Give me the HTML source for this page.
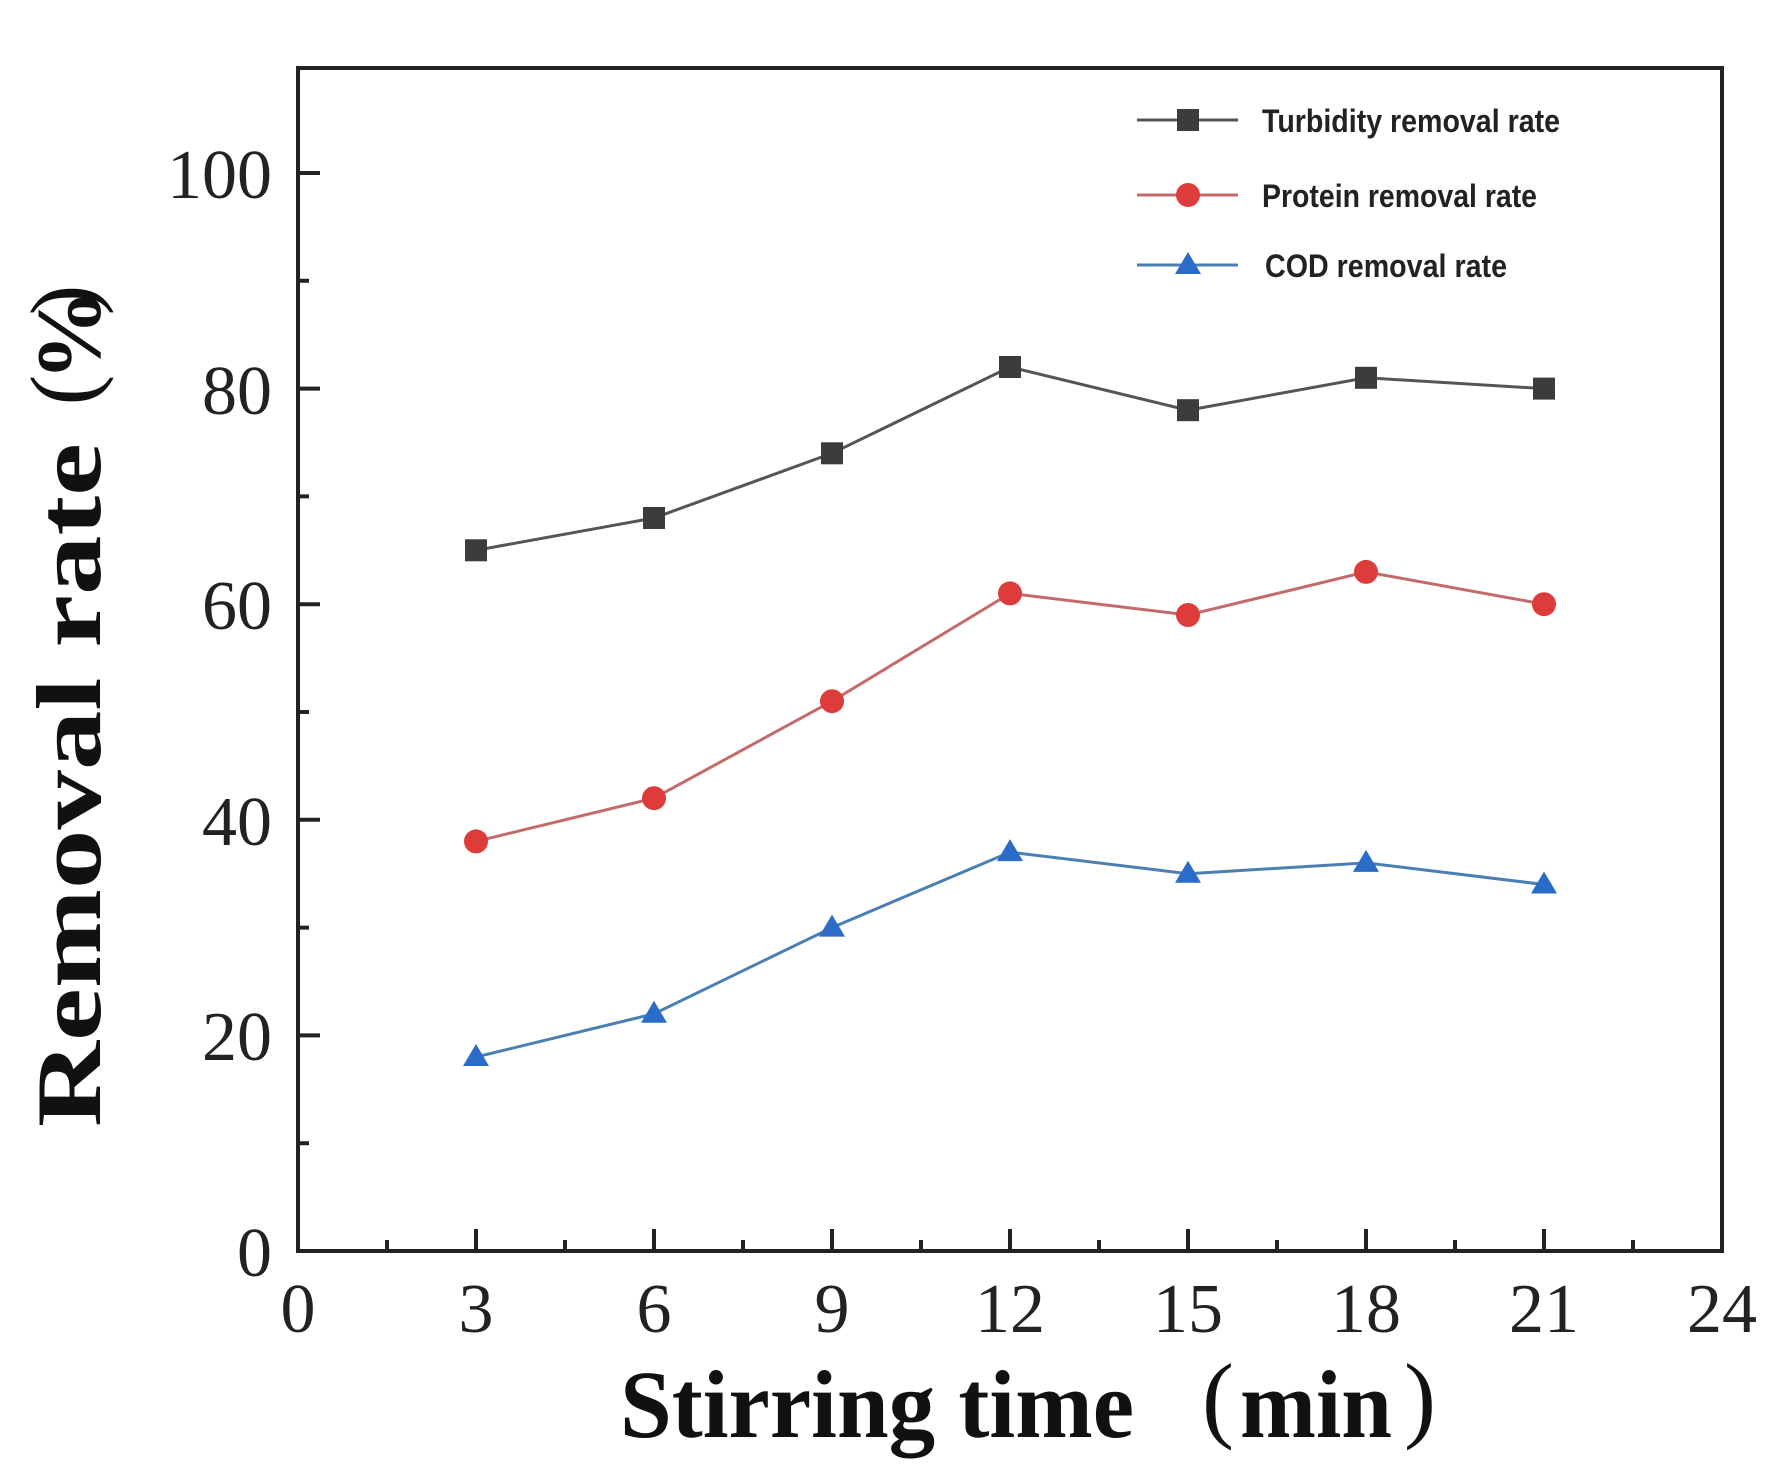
<!DOCTYPE html>
<html><head><meta charset="utf-8"><style>html,body{margin:0;padding:0;background:#fff}svg{display:block}</style></head>
<body>
<svg width="1787" height="1477" viewBox="0 0 1787 1477" xmlns="http://www.w3.org/2000/svg">
<rect width="1787" height="1477" fill="#fff"/>
<g stroke="#222" stroke-width="4" fill="none">
<rect x="298" y="68" width="1424" height="1183"/>
<path d="M298 1035.4h22M298 819.8h22M298 604.2h22M298 388.6h22M298 173h22"/>
<path d="M298 1143.2h11M298 927.6h11M298 712h11M298 496.4h11M298 280.8h11"/>
<path d="M476 1251v-22M654 1251v-22M832 1251v-22M1010 1251v-22M1188 1251v-22M1366 1251v-22M1544 1251v-22"/>
<path d="M387 1251v-11M565 1251v-11M743 1251v-11M921 1251v-11M1099 1251v-11M1277 1251v-11M1455 1251v-11M1633 1251v-11"/>
</g>
<g font-family="Liberation Serif, serif" font-size="70" fill="#222">
<g text-anchor="end">
<text x="272" y="1276">0</text>
<text x="272" y="1060">20</text>
<text x="272" y="845">40</text>
<text x="272" y="629">60</text>
<text x="272" y="414">80</text>
<text x="272" y="198">100</text>
</g>
<g text-anchor="middle">
<text x="298" y="1332">0</text>
<text x="476" y="1332">3</text>
<text x="654" y="1332">6</text>
<text x="832" y="1332">9</text>
<text x="1010" y="1332">12</text>
<text x="1188" y="1332">15</text>
<text x="1366" y="1332">18</text>
<text x="1544" y="1332">21</text>
<text x="1722" y="1332">24</text>
</g>
</g>
<g font-family="Liberation Serif, serif" font-weight="bold" fill="#111">
<text x="620" y="1437" font-size="96" textLength="514" lengthAdjust="spacingAndGlyphs">Stirring time</text>
<text x="1218" y="1430" font-size="96" font-weight="normal" text-anchor="middle">(</text>
<text x="1240" y="1437" font-size="96" textLength="152" lengthAdjust="spacingAndGlyphs">min</text>
<text x="1420" y="1430" font-size="96" font-weight="normal" text-anchor="middle">)</text>
<g transform="translate(100,1127) rotate(-90)">
<text x="0" y="0" font-size="92" textLength="684" lengthAdjust="spacingAndGlyphs">Removal rate</text>
<text x="737" y="-6" font-size="92" font-weight="normal" text-anchor="middle">(</text>
<text x="792" y="0" font-size="92" text-anchor="middle">%</text>
<text x="827" y="-6" font-size="92" font-weight="normal" text-anchor="middle">)</text>
</g>
</g>
<polyline fill="none" stroke="#555" stroke-width="3" points="476,550.3 654,518 832,453.3 1010,367 1188,410.2 1366,377.8 1544,388.6"/>
<g fill="#3c3c3c">
<rect x="465" y="539.3" width="22" height="22"/><rect x="643" y="507" width="22" height="22"/><rect x="821" y="442.3" width="22" height="22"/><rect x="999" y="356" width="22" height="22"/><rect x="1177" y="399.2" width="22" height="22"/><rect x="1355" y="366.8" width="22" height="22"/><rect x="1533" y="377.6" width="22" height="22"/>
</g>
<polyline fill="none" stroke="#c46a6a" stroke-width="3" points="476,841.4 654,798.2 832,701.2 1010,593.4 1188,615 1366,571.9 1544,604.2"/>
<g fill="#de3b3b">
<circle cx="476" cy="841.4" r="12"/><circle cx="654" cy="798.2" r="12"/><circle cx="832" cy="701.2" r="12"/><circle cx="1010" cy="593.4" r="12"/><circle cx="1188" cy="615" r="12"/><circle cx="1366" cy="571.9" r="12"/><circle cx="1544" cy="604.2" r="12"/>
</g>
<polyline fill="none" stroke="#4b7fb3" stroke-width="3" points="476,1057 654,1013.8 832,927.6 1010,852.1 1188,873.7 1366,862.9 1544,884.5"/>
<g fill="#2a6cc8">
<path d="M476 1044l13 22h-26z"/><path d="M654 1000.8l13 22h-26z"/><path d="M832 914.6l13 22h-26z"/><path d="M1010 839.1l13 22h-26z"/><path d="M1188 860.7l13 22h-26z"/><path d="M1366 849.9l13 22h-26z"/><path d="M1544 871.5l13 22h-26z"/>
</g>
<g stroke-width="3">
<line x1="1137" y1="120" x2="1238" y2="120" stroke="#555"/>
<line x1="1137" y1="195" x2="1238" y2="195" stroke="#c46a6a"/>
<line x1="1137" y1="265" x2="1238" y2="265" stroke="#4b7fb3"/>
</g>
<rect x="1177" y="109" width="22" height="22" fill="#3c3c3c"/>
<circle cx="1188" cy="195" r="12" fill="#de3b3b"/>
<path d="M1188 252l13 22h-26z" fill="#2a6cc8"/>
<g font-family="Liberation Sans, sans-serif" font-weight="bold" font-size="32" fill="#222">
<text x="1262" y="132" textLength="298" lengthAdjust="spacingAndGlyphs">Turbidity removal rate</text>
<text x="1262" y="207" textLength="275" lengthAdjust="spacingAndGlyphs">Protein removal rate</text>
<text x="1265" y="277" textLength="242" lengthAdjust="spacingAndGlyphs">COD removal rate</text>
</g>
</svg>
</body></html>
